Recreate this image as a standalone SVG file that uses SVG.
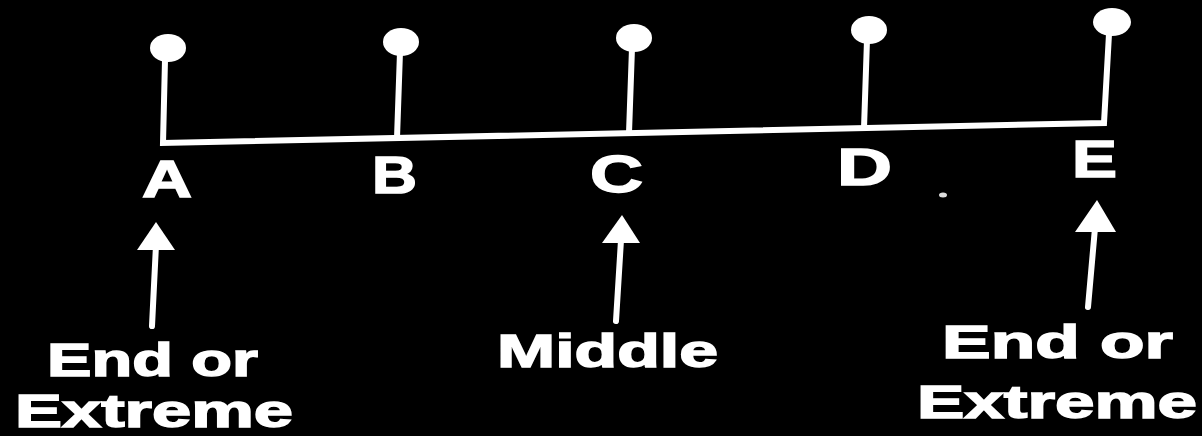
<svg xmlns="http://www.w3.org/2000/svg" width="1202" height="436" viewBox="0 0 1202 436">
  <defs>
    <style>
      .ln { stroke: #ffffff; stroke-width: 6; fill: none; stroke-linecap: round; stroke-linejoin: miter; }
      .hd { fill: #ffffff; }
      .lbl { font-family: "Liberation Sans", Arial, sans-serif; font-weight: bold; fill: #ffffff; stroke: #ffffff; stroke-width: 1.5; font-size: 52px; }
      .cap { font-family: "Liberation Sans", Arial, sans-serif; font-weight: bold; fill: #ffffff; stroke: #ffffff; stroke-width: 1.5; font-size: 47px; }
    </style>
  </defs>
  <rect width="1202" height="436" fill="#000000"/>

  <g id="connectors">
    <path class="ln" d="M165,60 L163,143 L1104,123 L1109,34"/>
    <line class="ln" x1="400" y1="52" x2="397" y2="138"/>
    <line class="ln" x1="632" y1="48" x2="629" y2="133"/>
    <line class="ln" x1="867" y1="40" x2="864" y2="128"/>
    <line class="ln" x1="156" y1="245" x2="152" y2="326"/>
    <polygon class="hd" points="156,222 175,250 137,250"/>
    <line class="ln" x1="621" y1="240" x2="616" y2="321"/>
    <polygon class="hd" points="622,215 640,243 602,243"/>
    <line class="ln" x1="1095" y1="228" x2="1088" y2="307"/>
    <polygon class="hd" points="1097,200 1116,232 1075,232"/>
  </g>

  <g id="pinA"><ellipse cx="168" cy="48" rx="18" ry="14" fill="#fff"/></g>
  <g id="pinB"><ellipse cx="401" cy="42" rx="18" ry="14" fill="#fff"/></g>
  <g id="pinC"><ellipse cx="634" cy="38" rx="18" ry="14" fill="#fff"/></g>
  <g id="pinD"><ellipse cx="869" cy="30" rx="18" ry="14" fill="#fff"/></g>
  <g id="pinE"><ellipse cx="1112" cy="22" rx="19" ry="14" fill="#fff"/></g>

  <g id="labelA"><text class="lbl" x="142" y="197" textLength="50" lengthAdjust="spacingAndGlyphs">A</text></g>
  <g id="labelB"><text class="lbl" x="372" y="193" textLength="45" lengthAdjust="spacingAndGlyphs">B</text></g>
  <g id="labelC"><text class="lbl" x="590" y="192" textLength="53" lengthAdjust="spacingAndGlyphs">C</text></g>
  <g id="labelD"><text class="lbl" x="837" y="185" textLength="55" lengthAdjust="spacingAndGlyphs">D</text></g>
  <g id="labelE"><text class="lbl" x="1072" y="177" textLength="45" lengthAdjust="spacingAndGlyphs">E</text></g>

  <g id="captionLeft">
    <text class="cap" x="47" y="376" textLength="211" lengthAdjust="spacingAndGlyphs">End or</text>
    <text class="cap" x="15" y="427" textLength="278" lengthAdjust="spacingAndGlyphs">Extreme</text>
  </g>
  <g id="captionMiddle">
    <text class="cap" x="497" y="367" textLength="221" lengthAdjust="spacingAndGlyphs">Middle</text>
  </g>
  <g id="captionRight">
    <text class="cap" x="942" y="358" textLength="231" lengthAdjust="spacingAndGlyphs">End or</text>
    <text class="cap" x="917" y="418" textLength="280" lengthAdjust="spacingAndGlyphs">Extreme</text>
  </g>

  <ellipse cx="943" cy="195" rx="4" ry="2.5" fill="#dddddd"/>
</svg>
